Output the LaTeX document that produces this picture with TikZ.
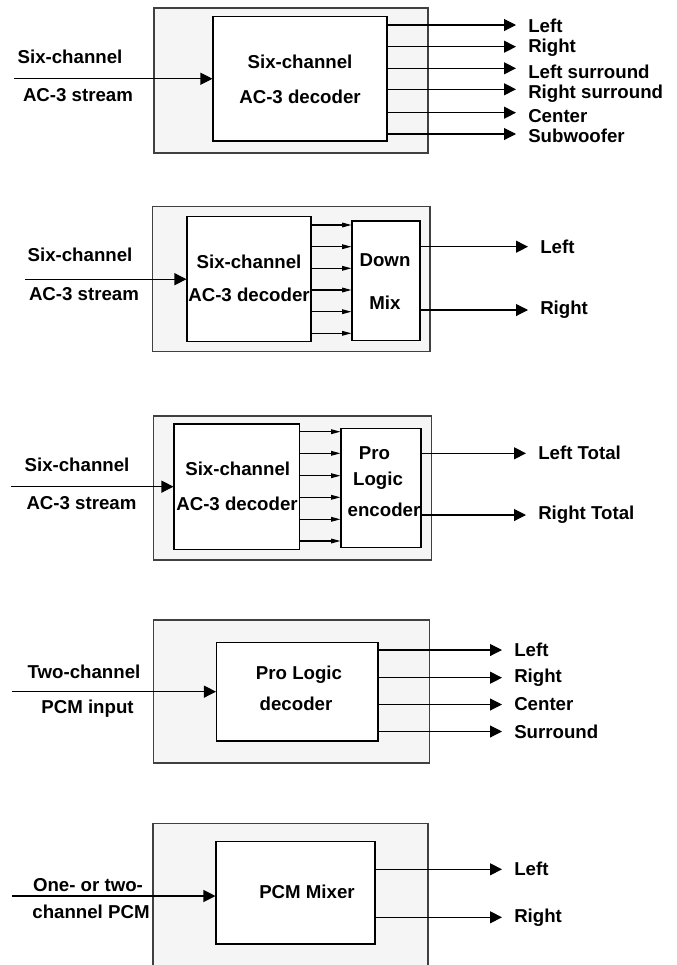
\documentclass[tikz,border=0pt]{standalone}
\usepackage{fontspec}
\setmainfont{Liberation Sans}
\usetikzlibrary{arrows.meta,fit}

\begin{document}
\begin{tikzpicture}[x=0.75pt,y=-0.75pt,font=\bfseries\fontsize{14}{16}\selectfont,
  outbox/.style={draw=black!75,line width=1.1pt,fill=black!4,inner sep=0pt},
  blk/.style={draw,line width=0.8pt,fill=white,inner sep=0pt},
  txt/.style={inner sep=0pt},
  lbl/.style={inner sep=0pt,anchor=west},
  sig/.style={line width=0.8pt,-{Triangle[length=9pt,width=9pt]}},
  outsig/.style={sig,shorten >=9pt},
  ch/.style={line width=0.8pt,-{Triangle[length=7pt,width=3.5pt]}}]
\clip (0,0) rectangle (676,965);
\fill[white] (0,0) rectangle (676,965);
% six-channel decoder
\node[outbox,fit={(154,8)(428,153)}] (box1) {};
\node[blk,fit={(213,16.5)(387,141)}] (dec1) {};
\node[txt] (dec1a) at (300,62) {Six-channel}; \node[txt] (dec1b) at (300,97) {AC-3 decoder};
\node[txt] (in1a) at (70,57) {Six-channel}; \node[txt] (in1b) at (78,95) {AC-3 stream};
\coordinate (src1) at (14,0); \draw[sig] (src1 |- dec1.west) -- (dec1.west);
\foreach \y/\ly/\lab [count=\i] in {25/26/Left,46.7/48/Right,68.3/72/Left surround,89.3/94/Right surround,112.7/116.5/Center,134/136/Subwoofer}{
  \node[lbl] (p1o\i) at (528,\ly) {\lab}; \coordinate (p1t\i) at (516,\y);
  \draw[sig] (dec1.east |- p1t\i) -- (p1t\i);}
% down mix
\node[outbox,fit={(152.5,206.7)(430,351.7)}] (box2) {};
\node[blk,fit={(187,216.7)(311,341.7)}] (dec2) {};
\node[blk,fit={(352,221)(420,340.7)}] (mix2) {};
\node[txt] (dec2a) at (249,261.7) {Six-channel}; \node[txt] (dec2b) at (249,295) {AC-3 decoder};
\node[txt] (mix2a) at (385,260) {Down}; \node[txt] (mix2b) at (385,303) {Mix};
\node[txt] (in2a) at (80,255) {Six-channel}; \node[txt] (in2b) at (84,294) {AC-3 stream};
\coordinate (src2) at (25,0); \draw[sig] (src2 |- dec2.west) -- (dec2.west);
\foreach \y in {225,246.7,268.3,290,311.7,333.3}{\draw[ch] (dec2.east |- 0,\y) -- (mix2.west |- 0,\y);}
\foreach \y/\lab [count=\i] in {246.7/Left,310/Right}{
  \node[lbl] (p2o\i) at (540,\y) {\lab}; \draw[outsig] (mix2.east |- p2o\i.west) -- (p2o\i.west);}
% pro logic encoder
\node[outbox,fit={(153.7,416)(431.5,560)}] (box3) {};
\node[blk,fit={(174,424)(299.6,549.3)}] (dec3) {};
\node[blk,fit={(341,428.3)(421,547.7)}] (enc3) {};
\node[txt] (dec3a) at (237.7,469) {Six-channel}; \node[txt] (dec3b) at (237,504) {AC-3 decoder};
\node[txt] (enc3a) at (374.5,452.7) {Pro}; \node[txt] (enc3b) at (378,481) {Logic};
\node[txt] (enc3c) at (384,510) {encoder};
\node[txt] (in3a) at (77,465) {Six-channel}; \node[txt] (in3b) at (81.5,503) {AC-3 stream};
\coordinate (src3) at (11,0); \draw[sig] (src3 |- dec3.west) -- (dec3.west);
\foreach \y in {431.7,453.3,475.7,497.3,519.3,541}{\draw[ch] (dec3.east |- 0,\y) -- (enc3.west |- 0,\y);}
\foreach \y/\lab [count=\i] in {453.3/Left Total,515/Right Total}{
  \node[lbl] (p3o\i) at (538,\y) {\lab}; \draw[outsig] (enc3.east |- p3o\i.west) -- (p3o\i.west);}
% pro logic decoder
\node[outbox,fit={(153.7,620)(429.4,763)}] (box4) {};
\node[blk,fit={(216.5,642.3)(378,741)}] (dec4) {};
\node[txt] (dec4a) at (299,674.3) {Pro Logic}; \node[txt] (dec4b) at (296,704.3) {decoder};
\node[txt] (in4a) at (84,672.3) {Two-channel}; \node[txt] (in4b) at (87.5,709) {PCM input};
\coordinate (src4) at (12,0); \draw[sig] (src4 |- dec4.west) -- (dec4.west);
\foreach \y/\lab [count=\i] in {650/Left,677.7/Right,704.5/Center,731.5/Surround}{
  \node[lbl] (p4o\i) at (514,\y) {\lab}; \draw[outsig] (dec4.east |- p4o\i.west) -- (p4o\i.west);}
% pcm mixer
\node[outbox,fit={(153,823.3)(428,980)}] (box5) {};
\node[blk,fit={(216,841.7)(375,944)}] (mix5) {};
\node[txt] (mix5a) at (307,891.7) {PCM Mixer};
\node[txt] (in5a) at (88,885) {One- or two-}; \node[txt] (in5b) at (91,911.7) {channel PCM};
\coordinate (src5) at (12,896); \draw[sig] (src5) -- (src5 -| mix5.west);
\foreach \y/\lab [count=\i] in {869.3/Left,917.3/Right}{
  \node[lbl] (p5o\i) at (514,\y) {\lab}; \draw[outsig] (mix5.east |- p5o\i.west) -- (p5o\i.west);}
\end{tikzpicture}
\end{document}
